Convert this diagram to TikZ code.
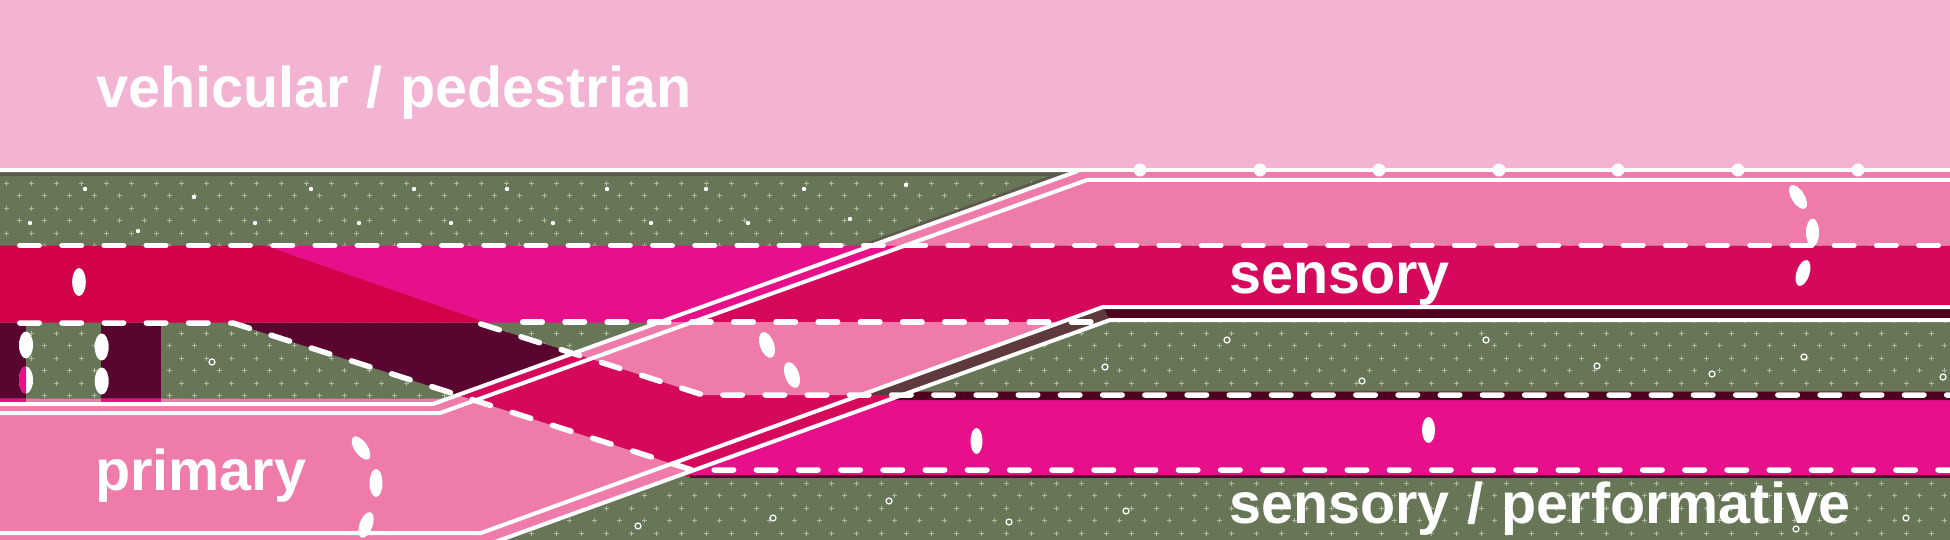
\documentclass[tikz,border=0pt]{standalone}
\usepackage{fontspec}
\setmainfont{Liberation Sans}
\definecolor{toppink}{HTML}{F2B4D2}
\definecolor{pinkP}{HTML}{EF7BAB}
\definecolor{grn}{HTML}{667657}
\definecolor{crossc}{HTML}{AEB8A2}
\definecolor{crimL}{HTML}{D3004A}
\definecolor{mag}{HTML}{E8108A}
\definecolor{sens}{HTML}{D6085C}
\definecolor{maroonR}{HTML}{5A0530}
\definecolor{maroonD}{HTML}{50001F}
\definecolor{brownS}{HTML}{5E3A3C}
\definecolor{shadowc}{HTML}{5E584C}
\begin{document}
\begin{tikzpicture}[x=1pt,y=-1pt,
  wl/.style={white,line width=4pt},
  dashw/.style={white,line width=5.5pt,line cap=round,dash pattern=on 19.5pt off 22.7pt},
  lbl/.style={text=white,font=\fontsize{57.5}{60}\selectfont\bfseries,inner sep=0pt,anchor=base west},
  ring/.style={draw=white,line width=1.2pt},
  crs/.style={draw=crossc,line width=1.3pt}]
\useasboundingbox (0,0) rectangle (1950,540);
% background bands
\fill[toppink] (0,0) rectangle (1950,172);
\fill[grn] (0,170) rectangle (1950,540);
% cross pattern
\foreach \k in {0,...,28}{
  \pgfmathsetmacro\yy{183.3+12.5*\k}
  \pgfmathsetmacro\xo{6.7+12.5*mod(\k,2)}
  \draw[crs] \foreach \c in {0,...,78}{ ({\xo+25*\c-2.6},\yy) -- ++(5.2,0) ({\xo+25*\c},{\yy-2.6}) -- ++(0,5.2) };
}
% upper crossing band
\fill[crimL] (0,245.5) -- (265,245.5) -- (487,322.5) -- (0,322.5) -- cycle;
\fill[mag] (265,245.5) -- (905,245.5) -- (693,322.5) -- (487,322.5) -- cycle;
\fill[sens] (905,245.5) -- (1955,245.5) -- (1955,307) -- (1103,307) -- (1062,322) -- (693,322) -- cycle;
\fill[pinkP] (872,245.5) -- (1078,171) -- (1955,171) -- (1955,245.5) -- cycle;
% maroon wedge and blocks
\fill[maroonR] (233,323) -- (478,323) -- (573,353) -- (458,395) -- cycle;
\fill[maroonR] (0,323) rectangle (26,399);
\fill[maroonR] (101,323) rectangle (161,399);
% primary pink
\fill[pinkP] (-5,398.5) -- (448,398.5) -- (458,395) -- (692,470) -- (694,470) -- (486,545) -- (-5,545) -- cycle;
\fill[mag] (0,398.5) rectangle (26,403);
\fill[mag] (101,398.5) rectangle (161,403);
% crossing crimson and pink
\fill[sens] (458,395) -- (573,353) -- (703,395) -- (1000,395) -- (1000,477) -- (685,477) -- (692,470) -- cycle;
\fill[pinkP] (660,322) -- (1062,322) -- (861,395) -- (703,395) -- (573,353) -- cycle;
\fill[mag] (902,395) -- (1955,395) -- (1955,477) -- (690,477) -- (694,470) -- cycle;
% dark strips
\fill[brownS] (861,395) -- (1103,307) -- (1110,320) -- (902,395) -- cycle;
\fill[maroonD] (1103,307) -- (1955,307) -- (1955,320) -- (1110,320) -- cycle;
\fill[maroonD] (913,391.5) -- (1955,391.5) -- (1955,400) -- (890,400) -- cycle;
\draw[maroonR,line width=2.5pt] (690,476.5) -- (1955,476.5);
\draw[shadowc,line width=3pt] (-5,174.5) -- (1058,174.5) -- (863,245.5);
% dashed lines
\draw[dashw] (19.75,245.5) -- (1955,245.5);
\draw[dashw] (19.75,323) -- (233,323) -- (692,470) -- (1955,470);
\draw[dashw] (480.75,323.9) -- (703,395) -- (1955,395);
\draw[dashw] (522.75,322) -- (1097,322);
% white lines
\draw[wl] (-5,170) -- (1955,170);
\draw[wl] (-5,404) -- (433,404) -- (1078,171);
\draw[wl] (-5,413) -- (440,413) -- (1087,180) -- (1955,180);
\draw[wl] (-5,533) -- (481,533) -- (1103,307) -- (1955,307);
\draw[wl] (-5,543) -- (492,543) -- (1110,320) -- (1955,320);
% top dots
\foreach \x in {1140,1260,1379,1499,1618,1738,1858}{\fill[white] (\x,170) circle (6.5);}
% small dots in upper green
\foreach \p in {(85,189),(311,189),(414,189),(507,189),(607,189),(706,189),(804,189),(906,185),(194,197),(30,223),(138,231),(255,223),(359,223),(451,223),(553,223),(651,223),(748,223),(850,219)}{\fill[white] \p circle (2.2);}
% rings
\foreach \p in {(212,362),(1227,340),(1486,340),(1105,367),(1597,366),(1362,381),(1712,374),(1804,357),(1943,377),(638,526),(773,518),(889,501),(1009,522),(1126,511),(1796,529),(1906,518)}{\draw[ring] \p circle (3);}
% ellipses
\fill[white] (79,282) ellipse (6.8 and 14);
\fill[white] (26,345) ellipse (7 and 13.5);
\fill[white] (26,380) ellipse (7 and 13.5);
\begin{scope}\clip (18,360) rectangle (26,400);\fill[mag] (26,380) ellipse (7 and 13.5);\end{scope}
\fill[white] (101.7,347) ellipse (7 and 13.5);
\fill[white] (101.7,381) ellipse (7 and 13.5);
\fill[white,rotate around={35:(361,448)}] (361,448) ellipse (6.5 and 13.5);
\fill[white] (376,483) ellipse (6.5 and 14);
\fill[white,rotate around={-20:(366,525)}] (366,525) ellipse (6.5 and 13.5);
\fill[white,rotate around={20:(767,345)}] (767,345) ellipse (7 and 13.5);
\fill[white,rotate around={20:(792,375)}] (792,375) ellipse (7 and 13.5);
\fill[white] (976.5,441) ellipse (6 and 13);
\fill[white] (1428.5,430) ellipse (6.5 and 13);
\fill[white,rotate around={32:(1798,197)}] (1798,197) ellipse (6.5 and 13.5);
\fill[white] (1812.5,232.5) ellipse (6.5 and 14);
\fill[white,rotate around={-18:(1803,273)}] (1803,273) ellipse (6.5 and 13.5);
% labels
\node[lbl] (veh) at (96,108) {vehicular\hspace{18pt}/\hspace{18pt}pedestrian};
\node[lbl] (prim) at (95,490) {primary};
\node[lbl] (sens) at (1229,293) {sensory};
\node[lbl] (sensperf) at (1229,523) {sensory\hspace{18pt}/\hspace{18pt}performative};
\end{tikzpicture}
\end{document}
